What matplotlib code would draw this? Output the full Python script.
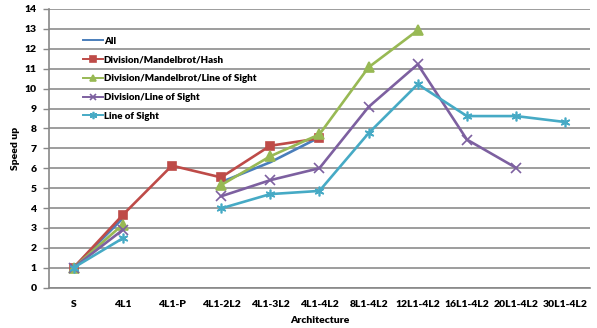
import numpy as np
import matplotlib
matplotlib.use("Agg")
import matplotlib.pyplot as plt

plt.rcParams['font.family'] = ['Lato', 'DejaVu Sans']
plt.rcParams['font.weight'] = 'heavy'
plt.rcParams['axes.labelweight'] = 'heavy'

nan = np.nan
architectures = ["S", "4L1", "4L1-P", "4L1-2L2", "4L1-3L2", "4L1-4L2",
                 "8L1-4L2", "12L1-4L2", "16L1-4L2", "20L1-4L2", "30L1-4L2"]

all_speedup = [1.0, 3.48, nan, 5.3, 6.3, 7.55, nan, nan, nan, nan, nan]
div_mandel_hash = [1.0, 3.65, 6.13, 5.54, 7.13, 7.5, nan, nan, nan, nan, nan]
div_mandel_los = [1.0, 3.17, nan, 5.15, 6.6, 7.7, 11.07, 12.93, nan, nan, nan]
div_los = [1.0, 2.9, nan, 4.59, 5.4, 6.0, 9.08, 11.22, 7.44, 6.02, nan]
line_of_sight = [1.0, 2.48, nan, 3.98, 4.7, 4.86, 7.76, 10.22, 8.62, 8.62, 8.32]

series = [
    ("All", all_speedup, "#4A7EBB", None, 6),
    ("Division/Mandelbrot/Hash", div_mandel_hash, "#BE4B48", "s", 6),
    ("Division/Mandelbrot/Line of Sight", div_mandel_los, "#98B954", "^", 6.5),
    ("Division/Line of Sight", div_los, "#7D60A0", "x", 6.5),
    ("Line of Sight", line_of_sight, "#46AAC5", (6, 2, 0), 7),
]

fig = plt.figure(figsize=(5.97, 3.28), dpi=100)
ax = fig.add_axes([0.082, 0.123, 0.906, 0.8496])

x = np.arange(len(architectures))
for label, vals, color, marker, ms in series:
    ax.plot(x, vals, color=color, lw=1.9, marker=marker, markersize=ms,
            markeredgewidth=1.2, label=label)

ax.set_xlim(-0.5, len(architectures) - 0.5)
ax.set_ylim(0, 14)
ax.set_yticks(range(0, 15))
ax.set_xticks(x)
ax.set_xticklabels(architectures)
ax.tick_params(axis='x', length=0, pad=9, labelsize=7.5)
ax.tick_params(axis='y', length=4, width=1, color='#888888', pad=5, labelsize=7.5)
ax.grid(axis='y', color='#8c8c8c', lw=1.2)
ax.set_axisbelow(True)
for side in ('top', 'right'):
    ax.spines[side].set_visible(False)
for side in ('left', 'bottom'):
    ax.spines[side].set_color('#888888')
    ax.spines[side].set_linewidth(1.2)

ax.set_xlabel("Architecture", fontsize=7.5, labelpad=5)
ax.set_ylabel("Speed up", fontsize=7.5, labelpad=3)

leg = ax.legend(loc='upper left', bbox_to_anchor=(0.0555, 0.914), frameon=False,
                fontsize=7, handlelength=2.05, handletextpad=0.1,
                labelspacing=1.0, borderaxespad=0, markerscale=0.75)
for line in leg.get_lines():
    line.set_linewidth(1.4)

fig.savefig("out.png", dpi=100)
